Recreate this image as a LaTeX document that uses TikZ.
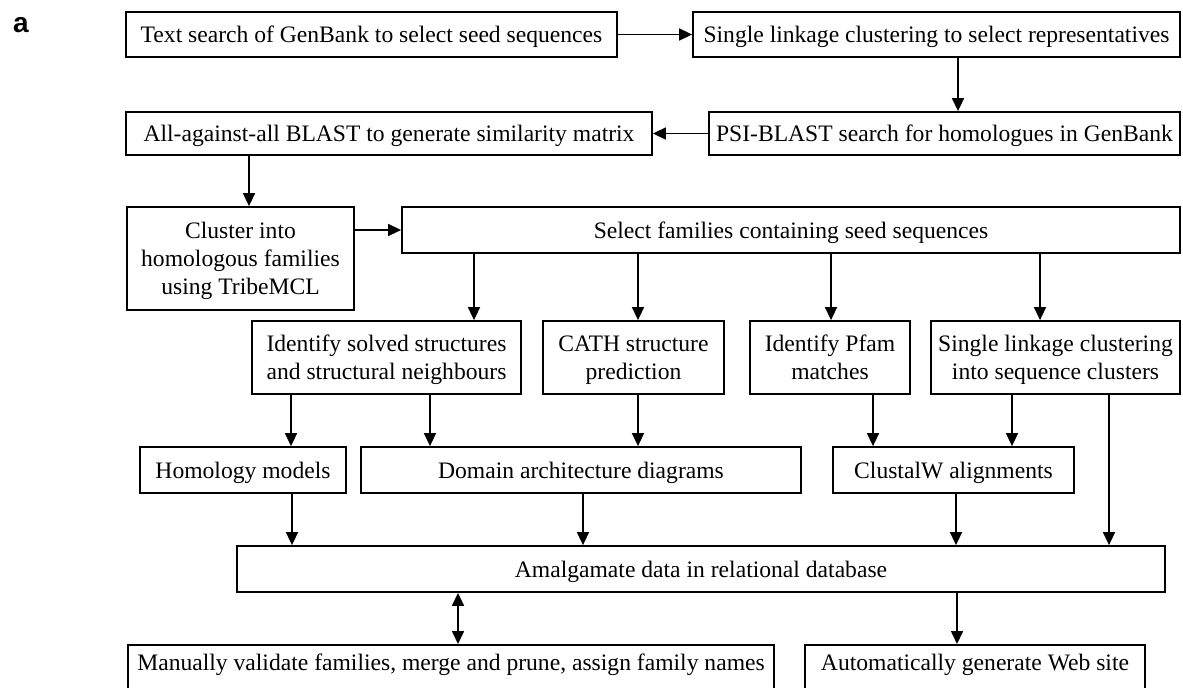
\documentclass[tikz,border=0pt]{standalone}
\usepackage{fontspec}
\setmainfont{Liberation Serif}
\setsansfont{Liberation Sans}
\usetikzlibrary{arrows.meta}
\begin{document}
\begin{tikzpicture}[x=0.5pt, y=-0.5pt, >={Triangle[length=6.5pt,width=6pt]},
	box/.style={draw, line width=0.9pt, inner sep=0pt, align=center, text depth=0pt, font=\fontsize{11.8}{14}\selectfont},
	flow/.style={->, line width=0.8pt}]
	\useasboundingbox (0,0) rectangle (1183,687);
	\clip (0,0) rectangle (1183,687);
	\node[font=\sffamily\bfseries\fontsize{14}{16}\selectfont] (tag) at (21,25) {a};
	\node[box, minimum width=245.5pt, minimum height=22.5pt] (search) at (371.5,34.5) {Text search of GenBank to select seed sequences};
	\node[box, minimum width=243.5pt, minimum height=22.5pt] (reps) at (936.5,34.5) {Single linkage clustering to select representatives};
	\node[box, minimum width=235.5pt, minimum height=21.5pt] (psi) at (944.5,133.5) {PSI-BLAST search for homologues in GenBank};
	\node[box, minimum width=263pt, minimum height=21.5pt] (allblast) at (389,133.5) {All-against-all BLAST to generate similarity matrix};
	\node[box, minimum width=113.5pt, minimum height=51.5pt] (tribe) at (240.5,258.5) {Cluster into\\homologous families\\using TribeMCL};
	\node[box, minimum width=389pt, minimum height=23pt] (select) at (791,230) {Select families containing seed sequences};
	\node[box, minimum width=134.5pt, minimum height=36.5pt] (solved) at (386.5,357.5) {Identify solved structures\\and structural neighbours};
	\node[box, minimum width=90.5pt, minimum height=36.5pt] (cath) at (633.5,357.5) {CATH structure\\prediction};
	\node[box, minimum width=80pt, minimum height=36.5pt] (pfam) at (830,357.5) {Identify Pfam\\matches};
	\node[box, minimum width=124.5pt, minimum height=36.5pt] (seqclus) at (1055.5,357.5) {Single linkage clustering\\into sequence clusters};
	\node[box, minimum width=103pt, minimum height=23pt] (models) at (243,470) {Homology models};
	\node[box, minimum width=220pt, minimum height=23pt] (domains) at (581,470) {Domain architecture diagrams};
	\node[box, minimum width=120.5pt, minimum height=23pt] (clustalw) at (953.5,470) {ClustalW alignments};
	\node[box, minimum width=464pt, minimum height=23pt] (amalg) at (701,569) {Amalgamate data in relational database};
	\node[box, minimum width=323pt, text height=13pt, text depth=17pt, anchor=north] (manual) at (451,644) {Manually validate families, merge and prune, assign family names};
	\node[box, minimum width=170pt, text height=13pt, text depth=17pt, anchor=north] (website) at (975,644) {Automatically generate Web site};
	\draw[flow] (search) -- (reps);
	\draw[flow] (958,0 |- reps.south) -- (958,0 |- psi.north);
	\draw[flow] (psi) -- (allblast);
	\draw[flow] (249,0 |- allblast.south) -- (249,0 |- tribe.north);
	\draw[flow] (tribe.east |- select.west) -- (select.west);
	\draw[flow] (474,0 |- select.south) -- (474,0 |- solved.north);
	\draw[flow] (638,0 |- select.south) -- (638,0 |- cath.north);
	\draw[flow] (831,0 |- select.south) -- (831,0 |- pfam.north);
	\draw[flow] (1040,0 |- select.south) -- (1040,0 |- seqclus.north);
	\draw[flow] (291,0 |- solved.south) -- (291,0 |- models.north);
	\draw[flow] (430,0 |- solved.south) -- (430,0 |- domains.north);
	\draw[flow] (638,0 |- cath.south) -- (638,0 |- domains.north);
	\draw[flow] (873,0 |- pfam.south) -- (873,0 |- clustalw.north);
	\draw[flow] (1012,0 |- seqclus.south) -- (1012,0 |- clustalw.north);
	\draw[flow] (1109,0 |- seqclus.south) -- (1109,0 |- amalg.north);
	\draw[flow] (292,0 |- models.south) -- (292,0 |- amalg.north);
	\draw[flow] (583,0 |- domains.south) -- (583,0 |- amalg.north);
	\draw[flow] (956,0 |- clustalw.south) -- (956,0 |- amalg.north);
	\draw[flow, <->] (458,0 |- amalg.south) -- (458,0 |- manual.north);
	\draw[flow] (957,0 |- amalg.south) -- (957,0 |- website.north);
\end{tikzpicture}
\end{document}
